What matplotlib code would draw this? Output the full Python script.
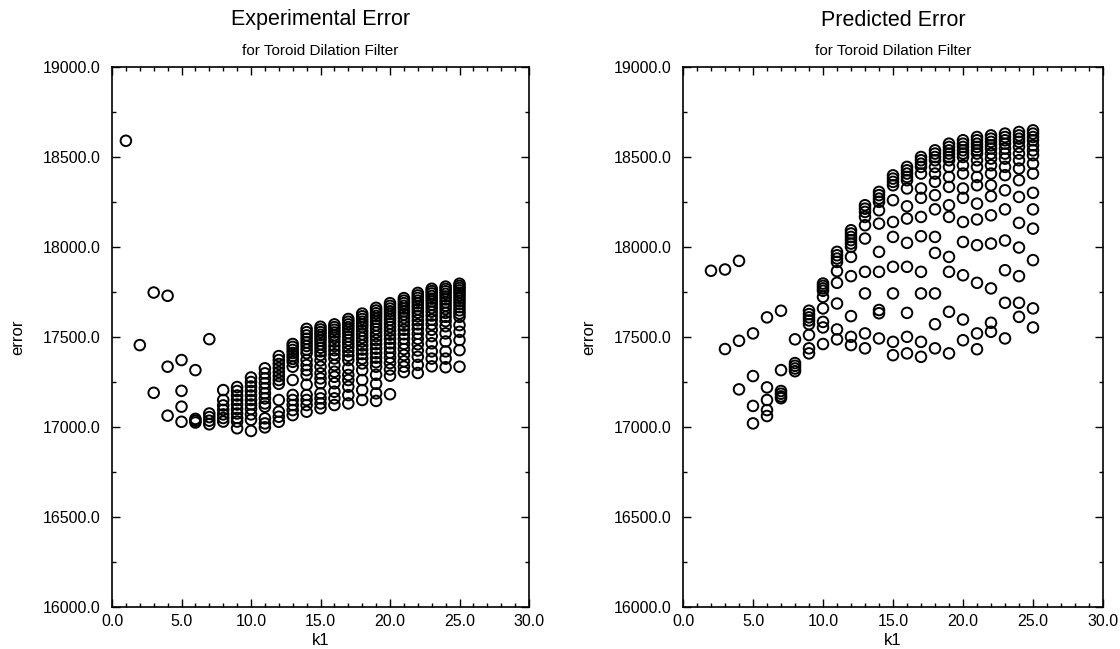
import matplotlib
matplotlib.use("Agg")
import matplotlib.pyplot as plt
from matplotlib.ticker import MultipleLocator, FormatStrFormatter

plt.rcParams['font.family'] = ['Liberation Sans', 'DejaVu Sans']

# ---------------- Experimental Error data ----------------
exp_k1 = [1, 2, 3, 4, 5, 6, 7, 8, 9, 10, 11, 12, 13, 14, 15, 16, 17, 18, 19, 20, 21, 22, 23, 24, 25]
exp_err = [
    [18590],
    [17455],
    [17747, 17190],
    [17729, 17335, 17063],
    [17372, 17201, 17113, 17029],
    [17316, 17045, 17035, 17025],
    [17488, 17075, 17055, 17035, 17015],
    [17205, 17150, 17120, 17095, 17070, 17050, 17030],
    [17222, 17200, 17175, 17150, 17125, 17100, 17075, 17050, 17030, 16993],
    [17275, 17250, 17225, 17200, 17175, 17150, 17125, 17100, 17070, 17040, 16978],
    [17326, 17298, 17270, 17243, 17215, 17187, 17159, 17131, 17113, 17048, 17020, 16998],
    [17394, 17372, 17350, 17328, 17305, 17283, 17261, 17240, 17150, 17085, 17057, 17029],
    [17461, 17445, 17428, 17411, 17395, 17378, 17362, 17335, 17261, 17178, 17150, 17122, 17094, 17066],
    [17545, 17527, 17509, 17490, 17470, 17450, 17430, 17410, 17372, 17344, 17316, 17289, 17235, 17178,
     17150, 17122, 17085],
    [17557, 17542, 17527, 17512, 17496, 17480, 17460, 17440, 17420, 17400, 17370, 17335, 17298, 17270,
     17243, 17187, 17159, 17131, 17104],
    [17570, 17555, 17540, 17525, 17510, 17495, 17474, 17450, 17427, 17404, 17381, 17344, 17307, 17279,
     17243, 17196, 17159, 17122],
    [17600, 17585, 17570, 17555, 17540, 17522, 17503, 17483, 17463, 17443, 17420, 17396, 17372, 17326,
     17289, 17261, 17224, 17177, 17131],
    [17630, 17615, 17600, 17585, 17570, 17555, 17535, 17515, 17495, 17475, 17453, 17430, 17405, 17380,
     17353, 17316, 17261, 17205, 17150],
    [17662, 17647, 17632, 17617, 17601, 17584, 17565, 17545, 17525, 17505, 17483, 17460, 17435, 17410,
     17385, 17360, 17335, 17290, 17240, 17187, 17145],
    [17688, 17673, 17658, 17643, 17628, 17612, 17595, 17575, 17555, 17535, 17513, 17490, 17465, 17440,
     17413, 17385, 17355, 17320, 17285, 17182],
    [17716, 17702, 17688, 17673, 17658, 17642, 17625, 17605, 17585, 17563, 17540, 17515, 17490, 17462,
     17433, 17400, 17365, 17335, 17305],
    [17745, 17731, 17717, 17702, 17687, 17671, 17654, 17635, 17615, 17593, 17570, 17545, 17518, 17490,
     17460, 17425, 17390, 17345, 17300],
    [17768, 17755, 17742, 17728, 17713, 17697, 17680, 17661, 17641, 17619, 17596, 17570, 17540, 17505,
     17465, 17420, 17380, 17337],
    [17780, 17767, 17754, 17740, 17725, 17709, 17692, 17674, 17655, 17634, 17612, 17588, 17560, 17520,
     17475, 17420, 17380, 17332],
    [17796, 17784, 17772, 17759, 17746, 17732, 17717, 17701, 17684, 17666, 17648, 17630, 17612, 17566,
     17529, 17483, 17427, 17335],
]

# ---------------- Predicted Error data ----------------
pred_k1 = [2, 3, 4, 5, 6, 7, 8, 9, 10, 11, 12, 13, 14, 15, 16, 17, 18, 19, 20, 21, 22, 23, 24, 25]
pred_err = [
    [17868],
    [17875, 17433],
    [17923, 17479, 17209],
    [17520, 17283, 17117, 17020],
    [17609, 17220, 17150, 17094, 17061],
    [17646, 17316, 17200, 17185, 17170, 17160],
    [17487, 17355, 17340, 17325, 17310],
    [17646, 17627, 17609, 17592, 17571, 17511, 17437, 17409],
    [17797, 17784, 17770, 17757, 17723, 17659, 17584, 17553, 17461],
    [17973, 17954, 17936, 17917, 17866, 17801, 17686, 17542, 17487],
    [18093, 18075, 18056, 18038, 18019, 18001, 17945, 17838, 17616, 17501, 17455],
    [18232, 18213, 18195, 18167, 18121, 18047, 17862, 17742, 17520, 17437],
    [18306, 18288, 18269, 18251, 18204, 18130, 17973, 17862, 17650, 17632, 17492],
    [18398, 18380, 18362, 18343, 18260, 18139, 18056, 17890, 17742, 17473, 17399],
    [18445, 18426, 18408, 18389, 18371, 18325, 18226, 18158, 18023, 17890, 17634, 17501, 17409],
    [18500, 18482, 18463, 18445, 18408, 18325, 18273, 18167, 18060, 17862, 17742, 17473, 17390],
    [18537, 18519, 18500, 18482, 18445, 18408, 18362, 18288, 18209, 18056, 17967, 17742, 17571, 17437],
    [18574, 18556, 18537, 18519, 18500, 18482, 18445, 18389, 18334, 18232, 18167, 17945, 17862, 17640,
     17409],
    [18593, 18574, 18556, 18537, 18519, 18500, 18454, 18408, 18325, 18273, 18139, 18028, 17843, 17597,
     17482],
    [18611, 18593, 18574, 18556, 18537, 18519, 18482, 18445, 18389, 18343, 18241, 18153, 18010, 17801,
     17520, 17432],
    [18620, 18602, 18584, 18565, 18547, 18519, 18491, 18454, 18408, 18343, 18282, 18176, 18019, 17770,
     17579, 17529],
    [18630, 18611, 18593, 18574, 18547, 18519, 18491, 18445, 18399, 18315, 18209, 18036, 17871, 17690,
     17492],
    [18639, 18620, 18602, 18584, 18556, 18519, 18482, 18436, 18371, 18278, 18134, 17997, 17838, 17690,
     17612],
    [18648, 18630, 18611, 18593, 18565, 18537, 18510, 18463, 18408, 18301, 18209, 18102, 17927, 17659,
     17553],
]

titles = ["Experimental Error", "Predicted Error"]
subtitle = "for Toroid Dilation Filter"
x_label = "k1"
y_label = "error"

W, H = 1120, 649
fig = plt.figure(figsize=(W / 100, H / 100), dpi=100)

panels = [
    (exp_k1, exp_err, titles[0], [112 / W, 1 - 607 / H, (529 - 112) / W, (607 - 67) / H]),
    (pred_k1, pred_err, titles[1], [683 / W, 1 - 607 / H, (1103 - 683) / W, (607 - 67) / H]),
]

for k1s, errs, title, rect in panels:
    ax = fig.add_axes(rect)
    xs, ys = [], []
    for k, col in zip(k1s, errs):
        for v in col:
            xs.append(k)
            ys.append(v)
    ax.scatter(xs, ys, s=58, facecolors='none', edgecolors='black', linewidths=1.4, zorder=3)
    ax.set_xlim(0, 30)
    ax.set_ylim(16000, 19000)
    ax.xaxis.set_major_locator(MultipleLocator(5))
    ax.xaxis.set_minor_locator(MultipleLocator(1))
    ax.yaxis.set_major_locator(MultipleLocator(500))
    ax.yaxis.set_minor_locator(MultipleLocator(250))
    ax.xaxis.set_major_formatter(FormatStrFormatter('%.1f'))
    ax.yaxis.set_major_formatter(FormatStrFormatter('%.1f'))
    ax.tick_params(which='both', direction='in', top=True, right=True, width=1.0, colors='black')
    ax.tick_params(which='major', length=5.5, labelsize=11.5, pad=5)
    ax.tick_params(which='minor', length=3)
    ax.tick_params(axis='y', which='major', pad=8)
    for sp in ax.spines.values():
        sp.set_linewidth(1.2)
    ax.set_xlabel(x_label, fontsize=12, labelpad=3)
    ax.set_ylabel(y_label, fontsize=12, labelpad=13)
    cx = rect[0] + rect[2] / 2
    fig.text(cx, 1 - 20 / H, title, ha='center', va='center', fontsize=15.5)
    fig.text(cx, 1 - 51 / H, subtitle, ha='center', va='center', fontsize=11)

fig.savefig("out.png", dpi=100, facecolor='white')
